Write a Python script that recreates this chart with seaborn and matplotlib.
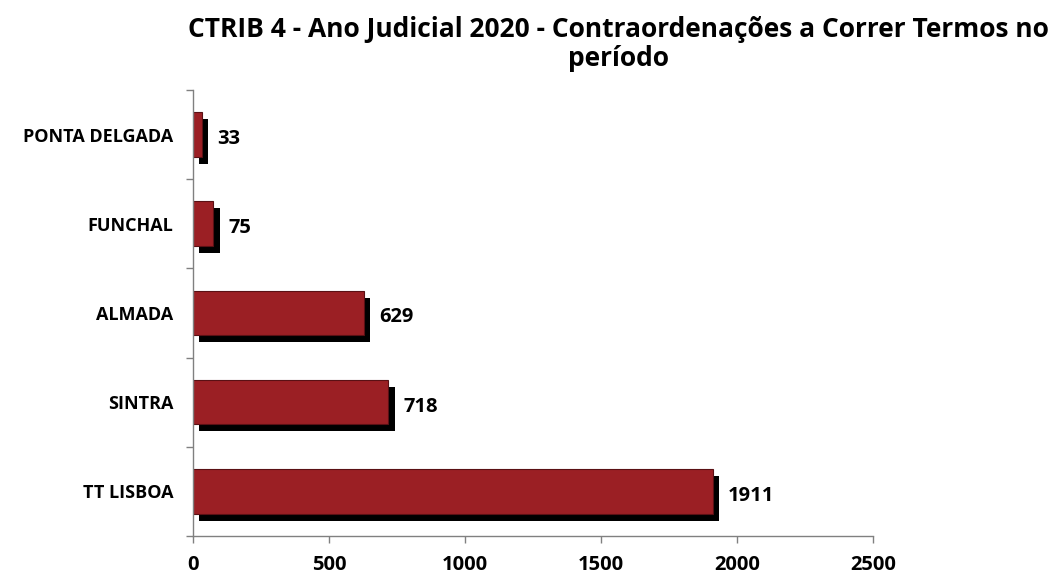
import matplotlib
matplotlib.use("Agg")
import matplotlib.pyplot as plt
import matplotlib.patheffects as pe
import seaborn as sns
import pandas as pd

# data
tribunais = ["PONTA DELGADA", "FUNCHAL", "ALMADA", "SINTRA", "TT LISBOA"]
processos = [33, 75, 629, 718, 1911]
x_ticks = [0, 500, 1000, 1500, 2000, 2500]
titulo = "CTRIB 4 - Ano Judicial 2020 - Contraordenações a Correr Termos no\nperíodo"

df = pd.DataFrame({"tribunal": tribunais, "valor": processos})

sns.set_style("white")
plt.rcParams["font.family"] = ["Open Sans", "DejaVu Sans"]
plt.rcParams["font.weight"] = "bold"
plt.rcParams["text.color"] = "black"
plt.rcParams["xtick.color"] = "black"
plt.rcParams["ytick.color"] = "black"

fig = plt.figure(figsize=(10.64, 5.79), dpi=100)
ax = fig.add_axes([0.1814, 0.0743, 0.6391, 0.7703])

sns.barplot(data=df, x="valor", y="tribunal", orient="h", color="#9B1F24",
            saturation=1, width=0.5, edgecolor="#5a1014", linewidth=0.8, ax=ax)

# excel-like drop shadow on each bar
for p in ax.patches:
    p.set_path_effects([pe.SimplePatchShadow(offset=(4.5, -5), shadow_rgbFace="black", alpha=1.0),
                        pe.Normal()])

for i, v in enumerate(processos):
    ax.text(v + 55, i + 0.05, str(v), va="center", ha="left",
            fontsize=14.5, fontweight="bold", color="black")

ax.set_xlim(0, 2500)
ax.set_ylim(4.5, -0.5)
ax.set_xticks(x_ticks)
ax.set_xticklabels([str(t) for t in x_ticks], fontsize=14.5, fontweight="bold")
ax.set_yticks(range(len(tribunais)))
ax.set_yticklabels(tribunais, fontsize=13, fontweight="bold")
ax.set_yticks([i - 0.5 for i in range(len(tribunais) + 1)], minor=True)
ax.tick_params(axis="y", which="major", left=False, length=0, pad=14)
ax.tick_params(axis="y", which="minor", left=True, length=5, width=1, color="#808080", direction="out")
ax.tick_params(axis="x", which="major", bottom=True, length=5, width=1, color="#808080",
               labelcolor="black", direction="out", pad=9)
ax.set_xlabel("")
ax.set_ylabel("")

for s in ["top", "right"]:
    ax.spines[s].set_visible(False)
for s in ["left", "bottom"]:
    ax.spines[s].set_color("#808080")
    ax.spines[s].set_linewidth(1)

fig.text(0.581, 0.972, titulo, ha="center", va="top", fontsize=19,
         fontweight="bold", linespacing=1.1)

fig.savefig("out.png", dpi=100)
